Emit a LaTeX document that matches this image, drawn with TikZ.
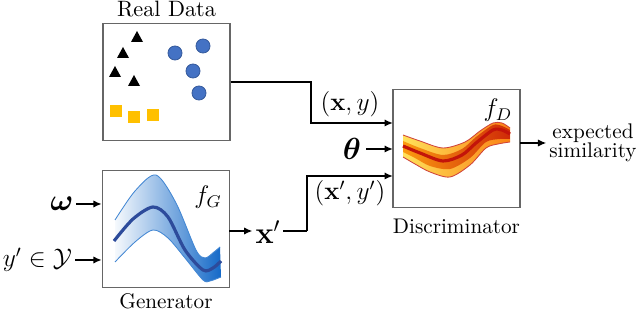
\documentclass[tikz,border=0pt]{standalone}
\usepackage{
  amsmath,
  amsfonts,
  amssymb
}
\usepackage{tikz}
\usetikzlibrary{arrows.meta,positioning}

\definecolor{ptblue}{RGB}{68,114,196}
\definecolor{ptgold}{RGB}{255,192,0}
\definecolor{genblue}{RGB}{20,105,200}
\definecolor{genline}{RGB}{45,75,155}
\definecolor{discyel}{RGB}{255,225,90}
\definecolor{discorg}{RGB}{250,130,20}
\definecolor{discred}{RGB}{195,20,10}

\begin{document}
\begin{tikzpicture}[x=0.472pt, y=-0.472pt, thick,
    box/.style={draw=black!60, line width=0.6pt, minimum width=60pt, minimum height=55.5pt, inner sep=0pt},
    wire/.style={line width=1pt},
    arr/.style={wire, -{Latex[length=4pt,width=3.5pt]}}]
    \useasboundingbox (0,0) rectangle (640,313);

    % Boxes
    \node[box] (data) at (166.5,82) {};
    \node[box] (gen) at (166,229) {};
    \node[box] (disc) at (456.5,148.5) {};
    \node (datatitle) [above=0.5pt of data, inner sep=1.5pt, font=\fontsize{10.5}{12}\selectfont] {Real Data};
    \node (gentitle) [below=0pt of gen, inner sep=2pt] {Generator};
    \node (disctitle) [below=1.5pt of disc] {Discriminator};

    % Real data points
    \foreach \x/\y in {137/31,123/47,115/66,134/75}
        \fill (\x,\y) -- ++(6,11) -- ++(-12,0) -- cycle;
    \foreach \x/\y in {175/53,203/46,193/71,199/93}
        \filldraw[fill=ptblue, draw=ptblue!80!black, line width=0.4pt] (\x,\y) circle (7);
    \foreach \x/\y in {116/111,134/117,153/115}
        \fill[ptgold] (\x-6,\y-6) rectangle ++(12,12);

    % Generator curve
    \path[left color=genblue!4, right color=genblue]
        plot[smooth] coordinates {(115,220) (135,191) (156,175) (176,203) (196,250) (205,258) (214,252) (220,247)}
        -- plot[smooth] coordinates {(221,277) (210,281) (203,280) (185,258) (168,238) (153,230) (135,242) (115,262)}
        -- cycle;
    \draw[genblue!80, line width=0.4pt] plot[smooth] coordinates {(115,220) (135,191) (156,175) (176,203) (196,250) (205,258) (214,252) (220,247)};
    \draw[genblue!80, line width=0.4pt] plot[smooth] coordinates {(221,277) (210,281) (203,280) (185,258) (168,238) (153,230) (135,242) (115,262)};
    \draw[genline, line width=1.5pt] plot[smooth] coordinates {(114,241) (133,219) (153,207) (168,217) (185,250) (203,270) (213,268) (221,261)};
    \node (fg) at (208,197) {\large$f_G$};

    % Discriminator curve
    \path[left color=discyel, right color=discorg]
        plot[smooth] coordinates {(403,135) (420,141) (443,148) (465,142) (480,131) (493,123) (502,123) (510,128)}
        -- plot[smooth] coordinates {(510,142) (498,144) (486,148) (470,165) (450,177) (430,172) (415,164) (403,157)}
        -- cycle;
    \path[left color=discorg!80!yellow, right color=discred!80!orange]
        plot[smooth] coordinates {(403,141) (420,148) (443,155) (462,149) (476,137) (493,125) (502,126) (510,130)}
        -- plot[smooth] coordinates {(510,139) (500,139) (486,142) (470,158) (450,169) (430,166) (415,158) (403,152)}
        -- cycle;
    \draw[discred!80, line width=0.4pt] plot[smooth] coordinates {(403,135) (420,141) (443,148) (465,142) (480,131) (493,123) (502,123) (510,128)};
    \draw[discred!80, line width=0.4pt] plot[smooth] coordinates {(510,142) (498,144) (486,148) (470,165) (450,177) (430,172) (415,164) (403,157)};
    \draw[discred, line width=1.5pt] plot[smooth] coordinates {(403,146) (420,153) (443,161) (462,155) (476,143) (493,130) (502,130) (510,134)};
    \node (fd) at (498,110) {\large$f_D$};

    % Generator inputs
    \node[inner sep=1pt] (omega) at (62,204) {\Large$\boldsymbol{\omega}$};
    \node[inner sep=1pt, anchor=east] (ylab) at (75,260) {\large$y'\in\mathcal{Y}$};
    \draw[arr] (omega.east) -- (omega.east -| gen.west);
    \draw[arr] (ylab.east) -- (ylab.east -| gen.west);

    % Generator output
    \node[inner sep=1pt] (xp) at (268,232) {\Large$\mathbf{x}'$};
    \coordinate (genout) at (229,231);
    \coordinate (xpturn) at (307,231);
    \draw[arr] (genout) -- (genout -| xp.west);
    \draw[wire] (xp.east |- xpturn) -- (xpturn);

    % Discriminator inputs
    \coordinate (xyin) at (393,123);
    \coordinate (thetain) at (393,149);
    \coordinate (xpin) at (393,176);
    \node[inner sep=2pt] (theta) at (352,149) {\Large$\boldsymbol{\theta}$};
    \draw[arr] (data.east) -| (311,123) -- (xyin);
    \draw[arr] (theta.east |- thetain) -- (thetain);
    \draw[arr] (xpturn) |- (xpin);
    \node (xylab) at (350,104) {\large$(\mathbf{x},y)$};
    \node (xpylab) at (350,193) {\large$(\mathbf{x}',y')$};

    % Output
    \node[inner sep=1pt, align=center] (sim) at (593,143) {expected\\[-3pt]similarity};
    \coordinate (discout) at (520,143);
    \draw[arr] (discout) -- (sim.west |- discout);
\end{tikzpicture}
\end{document}
